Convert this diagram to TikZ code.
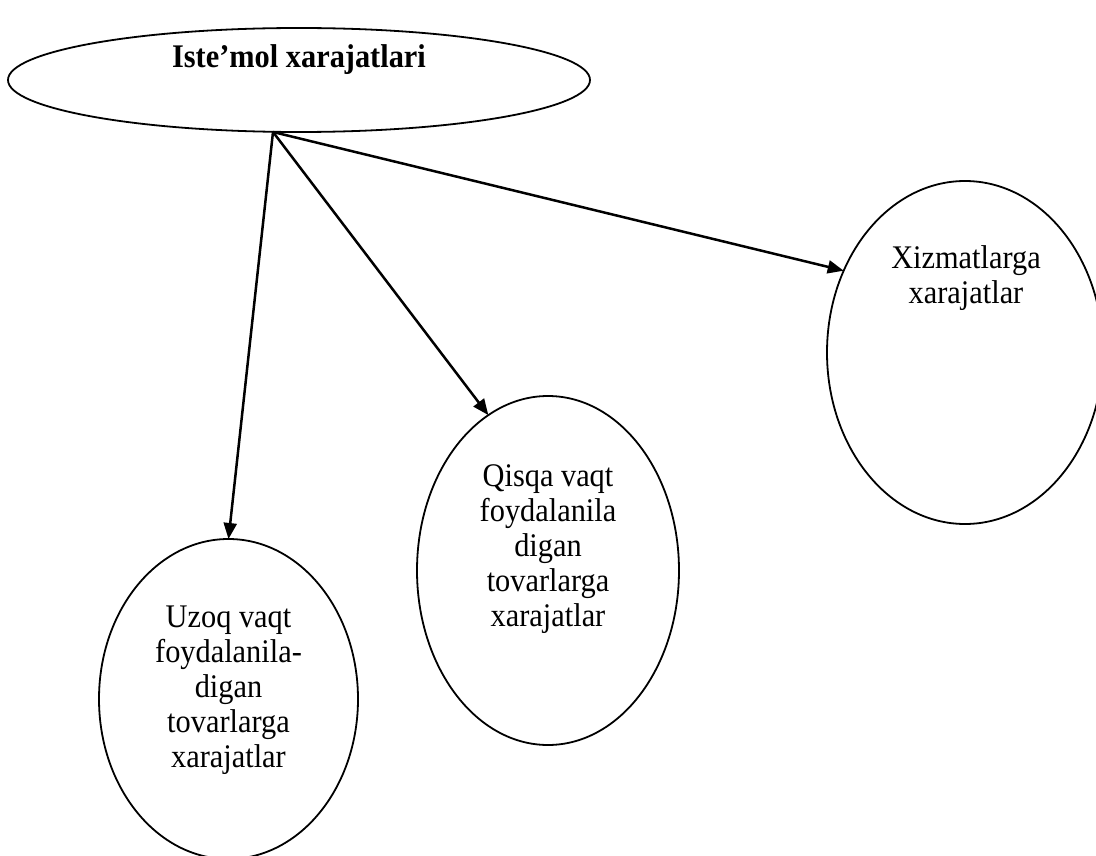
\documentclass[tikz,border=0pt]{standalone}
\usepackage{fontspec}
\setmainfont[FakeStretch=0.92]{Liberation Serif}
\usetikzlibrary{shapes.geometric,arrows.meta}
\begin{document}
\begin{tikzpicture}[x=1pt,y=-1pt,
  oval/.style={draw=black,line width=1.8pt,ellipse,inner sep=0pt,outer sep=0pt},
  lbl/.style={align=center,inner sep=0pt,font=\fontsize{33}{35}\selectfont},
  conn/.style={line width=2.5pt,-{Triangle[length=16pt,width=13pt]}}]
\useasboundingbox (0,0) rectangle (1096,856);
\node[oval,minimum width=582pt,minimum height=104pt] (top) at (299,80) {};
\node[oval,minimum width=259pt,minimum height=320pt] (left) at (228.5,699) {};
\node[oval,minimum width=262pt,minimum height=349pt] (mid) at (548,570.5) {};
\node[oval,minimum width=276pt,minimum height=343pt] (right) at (965,352.5) {};
\node[anchor=base,inner sep=0pt,font=\fontsize{33}{35}\selectfont\bfseries] (toptxt) at (299,68) {Iste’mol xarajatlari};
\node[lbl] (lefttxt) at (228.5,690) {Uzoq vaqt\\foydalanila-\\digan\\tovarlarga\\xarajatlar};
\node[lbl] (midtxt) at (548,549.5) {Qisqa vaqt\\foydalanila\\digan\\tovarlarga\\xarajatlar};
\node[lbl] (righttxt) at (966,278) {Xizmatlarga\\xarajatlar};
\coordinate (src) at (273,132);
\draw[conn] (src) -- (left.north);
\draw[conn] (src) -- (mid.111.3);
\draw[conn] (src) -- (right.146.7);
\end{tikzpicture}
\end{document}
